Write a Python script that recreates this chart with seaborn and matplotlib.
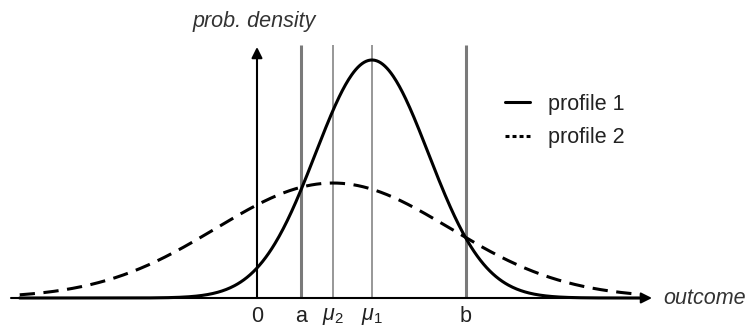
import numpy as np
import pandas as pd
import matplotlib
matplotlib.use("Agg")
import matplotlib.pyplot as plt
import seaborn as sns

# ---- data (outcome units: sigma of profile 1 = 1) ----
profiles = ["profile 1", "profile 2"]
means = [2.035, 1.345]          # mu1, mu2
sigmas = [1.0, 2.07]
tick_values = [0.0, 0.78, 1.345, 2.035, 3.70]
tick_labels = ["0", "a", r"$\mu_2$", r"$\mu_1$", "b"]
outcome_range = [-4.2, 6.8]

sns.set_theme(style="white")
plt.rcParams["font.family"] = ["Liberation Sans", "DejaVu Sans"]
plt.rcParams["mathtext.fontset"] = "custom"
plt.rcParams["mathtext.it"] = "Liberation Sans:italic"
plt.rcParams["mathtext.rm"] = "Liberation Sans"

FS = 15.5

fig = plt.figure(figsize=(7.49, 3.27), dpi=100)
ax = fig.add_axes([0, 0, 1, 1])

S = 56.5          # px per outcome unit
D = 596.6         # px per density unit
ax.set_xlim(-257 / S, (749 - 257) / S)
ax.set_ylim(-29 / D, 298 / D)

xs = np.linspace(outcome_range[0], outcome_range[1], 600)
frames = []
for name, m, s in zip(profiles, means, sigmas):
    frames.append(pd.DataFrame({
        "outcome": xs,
        "density": np.exp(-0.5 * ((xs - m) / s) ** 2) / (s * np.sqrt(2 * np.pi)),
        "profile": name,
    }))
df = pd.concat(frames, ignore_index=True)

# vertical reference lines
top = 0.424
for v, lab in zip(tick_values, tick_labels):
    if lab in ("a", "b"):
        ax.vlines(v, 0, top, color="#7a7a7a", lw=2.2, zorder=1)
    elif lab != "0":
        ax.vlines(v, 0, top, color="#7a7a7a", lw=1.1, zorder=1)

sns.lineplot(data=df, x="outcome", y="density", hue="profile", style="profile",
             palette=["black", "black"],
             dashes={"profile 1": "", "profile 2": (5, 2.8)},
             lw=2.2, ax=ax, zorder=3)

# axes arrows
ax.annotate("", xy=(652 / S - 257 / S, 0), xytext=(11 / S - 257 / S, 0),
            arrowprops=dict(arrowstyle="-|>", color="black", lw=1.5,
                            mutation_scale=16, shrinkA=0, shrinkB=0), zorder=4)
ax.annotate("", xy=(0, (298 - 47) / D), xytext=(0, 0),
            arrowprops=dict(arrowstyle="-|>", color="black", lw=1.5,
                            mutation_scale=16, shrinkA=0, shrinkB=0), zorder=4)

# tick labels via axis at baseline
for sp in ["top", "right", "left"]:
    ax.spines[sp].set_visible(False)
ax.spines["bottom"].set_position(("data", 0))
ax.spines["bottom"].set_visible(False)
ax.set_xticks(tick_values)
ax.set_xticklabels(tick_labels, fontsize=FS, color="#222222")
ax.tick_params(axis="x", length=0, pad=5.5, bottom=True)
ax.set_yticks([])
ax.set_xlabel("")
ax.set_ylabel("")

ax.text(254 / 749, 1 - 22 / 327, "prob. density", transform=fig.transFigure,
        ha="center", va="center", fontsize=FS, style="italic", color="#333333")
ax.text(663 / 749, 1 - 298 / 327, "outcome", transform=fig.transFigure,
        ha="left", va="center", fontsize=FS, style="italic", color="#333333")

leg = ax.legend(loc="upper left", bbox_to_anchor=(494 / 749, 1 - 83 / 327),
                bbox_transform=fig.transFigure, frameon=False, fontsize=FS,
                handlelength=1.16, handletextpad=0.84, labelspacing=0.58,
                borderpad=0)
lines = leg.get_lines()
for h in lines:
    h.set_linewidth(2.2)
lines[1].set_dashes((1.3, 1.0))
for t in leg.get_texts():
    t.set_color("#222222")

fig.savefig("out.png", dpi=100)
